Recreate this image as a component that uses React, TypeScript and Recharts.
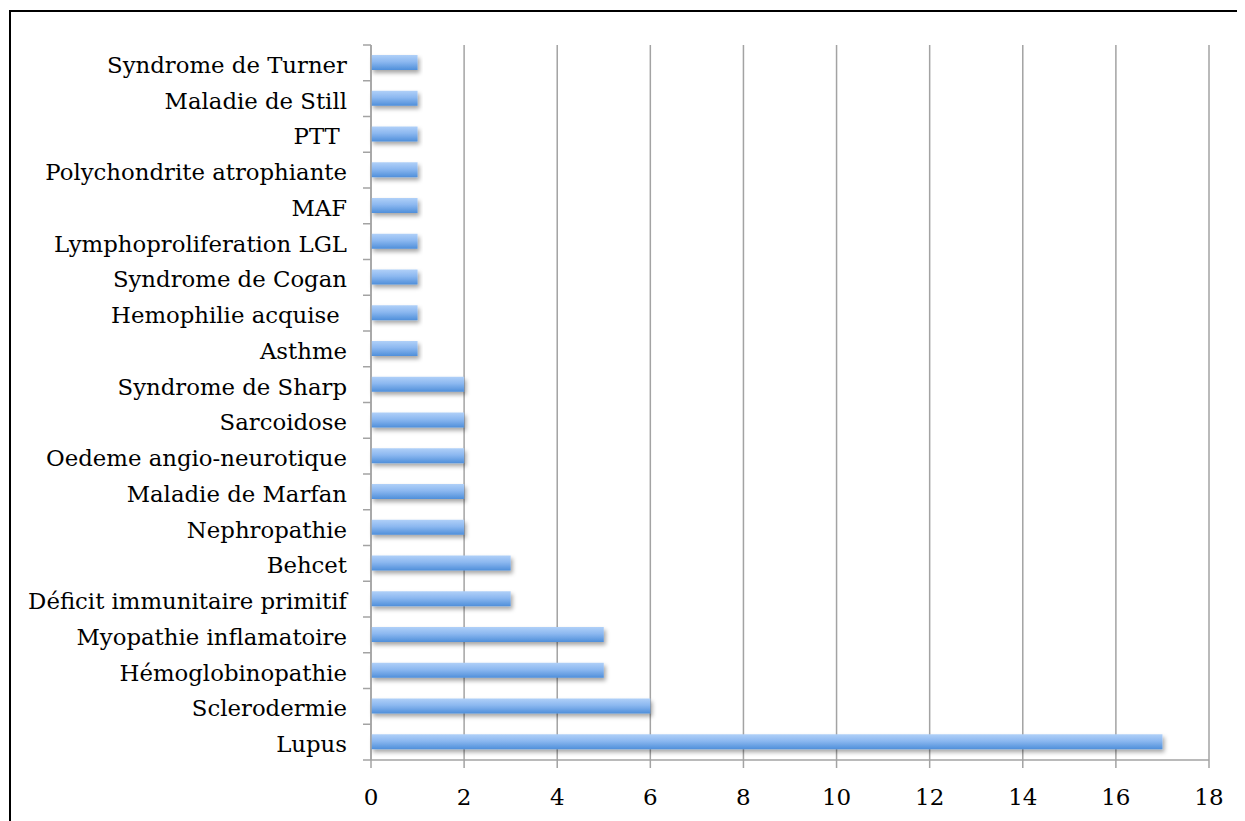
import { BarChart, Bar, XAxis, YAxis, CartesianGrid } from 'recharts';

// categories listed top to bottom as they appear on the axis
const diseases = [
  'Syndrome de Turner',
  'Maladie de Still',
  'PTT ',
  'Polychondrite atrophiante',
  'MAF',
  'Lymphoproliferation LGL',
  'Syndrome de Cogan',
  'Hemophilie acquise ',
  'Asthme',
  'Syndrome de Sharp',
  'Sarcoidose',
  'Oedeme angio-neurotique',
  'Maladie de Marfan',
  'Nephropathie',
  'Behcet',
  'Déficit immunitaire primitif',
  'Myopathie inflamatoire',
  'Hémoglobinopathie',
  'Sclerodermie',
  'Lupus',
];

const counts = [1, 1, 1, 1, 1, 1, 1, 1, 1, 2, 2, 2, 2, 2, 3, 3, 5, 5, 6, 17];

const xTicks = [0, 2, 4, 6, 8, 10, 12, 14, 16, 18];

const data = diseases.map((name, i) => ({ name, value: counts[i] }));

const FONT = '"DejaVu Serif", serif';
const GRID = '#a3a3a3';

// label at the band centre, small tick marks on the band edges
const CategoryTick = (props: any) => {
  const { x, y, payload, index, axisX } = props;
  const half = payload.offset ?? 0;
  return (
    <g>
      <text
        x={x}
        y={y}
        dy={2}
        textAnchor="end"
        dominantBaseline="central"
        fontFamily={FONT}
        fontSize={22.8}
        fill="#000"
        style={{ whiteSpace: 'pre' }}
      >
        {payload.value}
      </text>
      {index === 0 && (
        <line x1={axisX - 8} x2={axisX} y1={y - half} y2={y - half} stroke={GRID} strokeWidth={1.5} />
      )}
      <line x1={axisX - 8} x2={axisX} y1={y + half} y2={y + half} stroke={GRID} strokeWidth={1.5} />
    </g>
  );
};

export default function App() {
  const yAxisWidth = 363;
  return (
    <div style={{ position: 'relative', width: 1237, height: 813, overflow: 'hidden', background: '#fff' }}>
      <div
        style={{
          position: 'absolute',
          left: 1,
          top: 2,
          width: 1300,
          height: 900,
          border: '2px solid #000',
          boxSizing: 'border-box',
        }}
      />
      <div style={{ position: 'absolute', left: 0, top: 0 }}>
        <BarChart
          width={1237}
          height={813}
          data={data}
          layout="vertical"
          margin={{ top: 37, right: 36, bottom: 0, left: 0 }}
          barSize={15}
        >
          <defs>
            <linearGradient id="barFill" x1="0" y1="0" x2="0" y2="1">
              <stop offset="0%" stopColor="#b0d0f8" />
              <stop offset="45%" stopColor="#8cb8f0" />
              <stop offset="100%" stopColor="#4f8fda" />
            </linearGradient>
            <filter id="barShadow" x="-5%" y="-40%" width="115%" height="200%">
              <feDropShadow dx="2" dy="3" stdDeviation="2" floodColor="#000" floodOpacity="0.35" />
            </filter>
          </defs>
          <CartesianGrid horizontal={false} stroke={GRID} strokeWidth={1.5} />
          <XAxis
            type="number"
            domain={[0, 18]}
            ticks={xTicks}
            interval={0}
            height={61}
            stroke={GRID}
            strokeWidth={1.5}
            tickSize={8}
            tickMargin={21}
            tick={{ fill: '#000', fontFamily: FONT, fontSize: 23 }}
          />
          <YAxis
            type="category"
            dataKey="name"
            width={yAxisWidth}
            stroke={GRID}
            strokeWidth={1.5}
            tickLine={false}
            tickMargin={24}
            tickSize={0}
            interval={0}
            tick={<CategoryTick axisX={yAxisWidth} />}
          />
          <Bar dataKey="value" fill="url(#barFill)" filter="url(#barShadow)" isAnimationActive={false} />
        </BarChart>
      </div>
    </div>
  );
}
